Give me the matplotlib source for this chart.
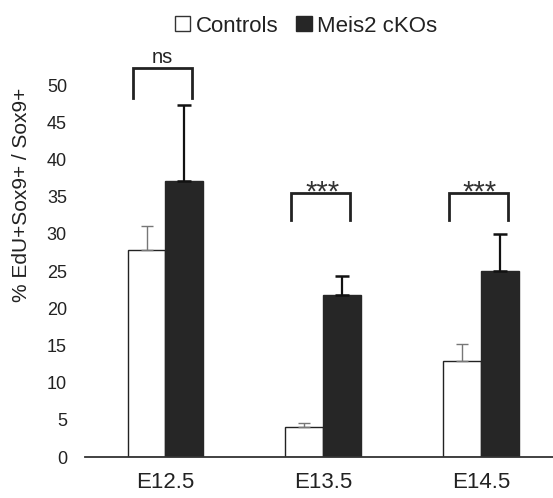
import matplotlib
matplotlib.use('Agg')
import matplotlib.pyplot as plt
from matplotlib.patches import Patch
import numpy as np

plt.rcParams['font.family'] = ['Liberation Sans', 'DejaVu Sans']

# data
stages = ['E12.5', 'E13.5', 'E14.5']
controls = [27.8, 4.0, 12.9]
controls_err = [3.2, 0.6, 2.3]
cko = [37.1, 21.8, 25.0]
cko_err = [10.2, 2.5, 5.0]
signif = ['ns', '***', '***']

fig = plt.figure(figsize=(5.53, 4.98), dpi=100)
ax = fig.add_axes([85/553, 1 - 457/498, 1 - 85/553, 409.2/498])

x = np.arange(len(stages))
w = 0.24
dark = '#262626'

ax.bar(x - w/2, controls, w, color='white', edgecolor='#222222', linewidth=1.0,
       yerr=[np.zeros(3), controls_err],
       error_kw=dict(ecolor='#777777', elinewidth=1.0, capsize=4, capthick=1.0))
ax.bar(x + w/2, cko, w, color=dark, edgecolor=dark, linewidth=1.0,
       yerr=[np.zeros(3), cko_err],
       error_kw=dict(ecolor='#111111', elinewidth=1.6, capsize=5, capthick=1.8))

# significance brackets
for i, lab in enumerate(signif):
    if lab == 'ns':
        top, low = 52.3, 48.2
    else:
        top, low = 35.5, 31.8
    x0, x1 = i - 0.205, i + 0.17
    ax.plot([x0, x0, x1, x1], [low, top, top, low], color='#222222', lw=2.0,
            clip_on=False, solid_joinstyle='miter')
    if lab == 'ns':
        ax.text((x0 + x1) / 2, top + 0.6, lab, ha='center', va='baseline', fontsize=14.5,
                color='#222222', clip_on=False)
    else:
        ax.text((x0 + x1) / 2 + 0.01, top - 1.0, lab, ha='center', va='baseline', fontsize=21,
                color='#333333', clip_on=False)

ax.set_xlim(-0.51, 2.456)
ax.set_ylim(0, 55)
ax.set_yticks(range(0, 51, 5))
ax.set_xticks(x)
ax.set_xticklabels(stages, fontsize=16, color='#222222')
ax.tick_params(axis='y', length=0, pad=13, labelsize=13, labelcolor='#222222')
ax.tick_params(axis='x', length=0, pad=11)

for s in ['top', 'right', 'left']:
    ax.spines[s].set_visible(False)
ax.spines['bottom'].set_color('#333333')
ax.spines['bottom'].set_linewidth(1.3)

fig.text(22/553, 1 - 195/498, '% EdU+Sox9+ / Sox9+', rotation=90, ha='center', va='center',
         fontsize=15, color='#222222')

handles = [Patch(facecolor='white', edgecolor='#333333', linewidth=1.0),
           Patch(facecolor=dark, edgecolor=dark)]
fig.legend(handles, ['Controls', 'Meis2 cKOs'], loc='center', bbox_to_anchor=(306/553, 1 - 26/498),
           ncol=2, frameon=False, fontsize=16, handlelength=0.7, handleheight=0.7,
           handletextpad=0.25, columnspacing=0.8, labelcolor='#222222')

fig.savefig('out.png', dpi=100, facecolor='white')
